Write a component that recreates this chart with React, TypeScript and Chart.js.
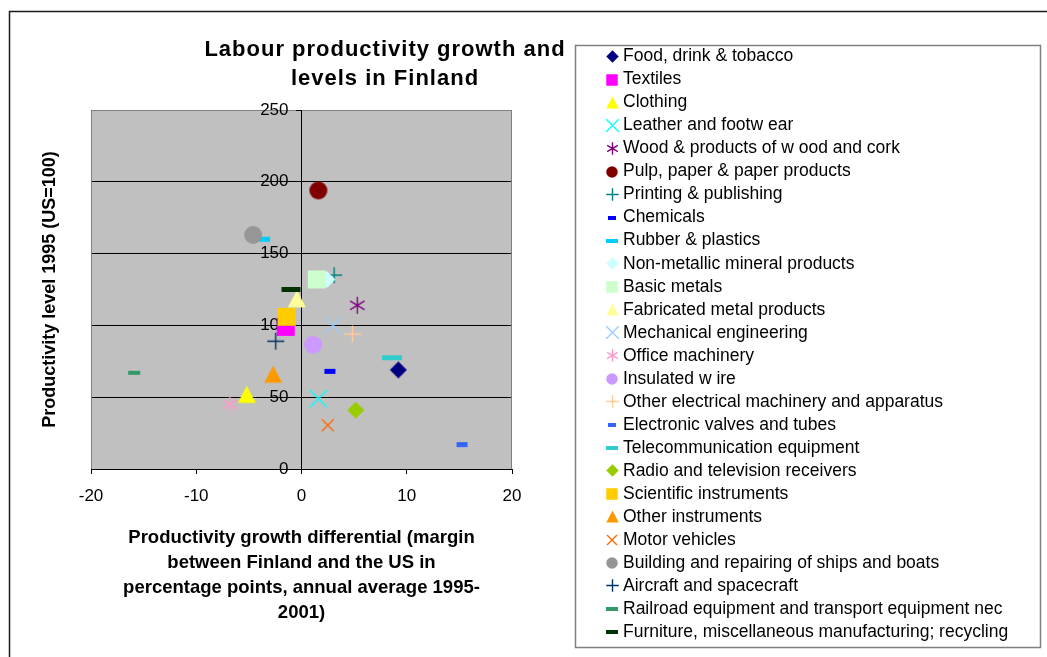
import React, { useEffect, useRef } from 'react';
import { Chart, registerables } from 'chart.js';

Chart.register(...registerables);

const FONT = '"Liberation Sans", Arial, Helvetica, sans-serif';

const chartTitle = ['Labour productivity growth and', 'levels in Finland'];
const xAxisTitle = [
  'Productivity growth differential (margin',
  'between Finland and the US in',
  'percentage points, annual average 1995-',
  '2001)',
];
const yAxisTitle = 'Productivity level 1995 (US=100)';

const sectors = [
  'Food, drink & tobacco',
  'Textiles',
  'Clothing',
  'Leather and footw ear',
  'Wood & products of w ood and cork',
  'Pulp, paper & paper products',
  'Printing & publishing',
  'Chemicals',
  'Rubber & plastics',
  'Non-metallic mineral products',
  'Basic metals',
  'Fabricated metal products',
  'Mechanical engineering',
  'Office machinery',
  'Insulated w ire',
  'Other electrical machinery and apparatus',
  'Electronic valves and tubes',
  'Telecommunication equipment',
  'Radio and television receivers',
  'Scientific instruments',
  'Other instruments',
  'Motor vehicles',
  'Building and repairing of ships and boats',
  'Aircraft and spacecraft',
  'Railroad equipment and transport equipment nec',
  'Furniture, miscellaneous manufacturing; recycling',
];

// Productivity growth differential (percentage points)
const growthDiff = [
  9.2, -1.5, -5.2, 1.6, 5.3, 1.6, 3.1, 2.7, -3.6, 2.4, 1.45, -0.45, 3.0,
  -6.8, 1.1, 4.85, 15.25, 8.6, 5.15, -1.4, -2.7, 2.5, -4.6, -2.45, -15.9, -1.0,
];

// Productivity level 1995 (US = 100)
const level1995 = [
  69, 99, 52, 49, 114, 194, 135, 68, 160, 132, 132, 118.5, 100,
  45, 86.5, 94, 17, 77.5, 41, 106, 66, 30.5, 163, 89, 67, 125,
];

const xMin = -20;
const xMax = 20;
const xStep = 10;
const yMin = 0;
const yMax = 250;
const yStep = 50;

type Shape = 'diamond' | 'square' | 'triangle' | 'x' | 'star' | 'circle' | 'plus' | 'dash';
interface MarkerStyle { shape: Shape; color: string; size: number; h?: number }

const markerStyles: MarkerStyle[] = [
  { shape: 'diamond', color: '#000080', size: 17 },
  { shape: 'square', color: '#FF00FF', size: 18 },
  { shape: 'triangle', color: '#FFFF00', size: 18 },
  { shape: 'x', color: '#00FFFF', size: 17 },
  { shape: 'star', color: '#800080', size: 17 },
  { shape: 'circle', color: '#800000', size: 18 },
  { shape: 'plus', color: '#008080', size: 16 },
  { shape: 'dash', color: '#0000FF', size: 11, h: 5 },
  { shape: 'dash', color: '#00CCFF', size: 13, h: 5 },
  { shape: 'diamond', color: '#CCFFFF', size: 17 },
  { shape: 'square', color: '#CCFFCC', size: 18 },
  { shape: 'triangle', color: '#FFFF99', size: 18 },
  { shape: 'x', color: '#99CCFF', size: 17 },
  { shape: 'star', color: '#FF99CC', size: 17 },
  { shape: 'circle', color: '#CC99FF', size: 18 },
  { shape: 'plus', color: '#FFCC99', size: 17 },
  { shape: 'dash', color: '#3366FF', size: 11, h: 5 },
  { shape: 'dash', color: '#33CCCC', size: 20, h: 5 },
  { shape: 'diamond', color: '#99CC00', size: 17 },
  { shape: 'square', color: '#FFCC00', size: 18 },
  { shape: 'triangle', color: '#FF9900', size: 18 },
  { shape: 'x', color: '#FF6600', size: 12 },
  { shape: 'circle', color: '#969696', size: 18 },
  { shape: 'plus', color: '#003366', size: 17 },
  { shape: 'dash', color: '#339966', size: 12, h: 4 },
  { shape: 'dash', color: '#003300', size: 19, h: 5 },
];

function makeMarker(shape: Shape, color: string, size: number, h?: number): HTMLCanvasElement {
  const pad = 2;
  const w = size;
  const hh = shape === 'dash' ? (h ?? 4) : size;
  const c = document.createElement('canvas');
  const W = Math.ceil(w) + pad * 2;
  const H = Math.ceil(hh) + pad * 2;
  c.width = W;
  c.height = H;
  const ctx = c.getContext('2d') as CanvasRenderingContext2D;
  const cx = W / 2;
  const cy = H / 2;
  const r = w / 2;
  ctx.fillStyle = color;
  ctx.strokeStyle = color;
  ctx.lineWidth = 1.4;
  ctx.lineCap = 'butt';
  ctx.beginPath();
  switch (shape) {
    case 'diamond':
      ctx.moveTo(cx, cy - r);
      ctx.lineTo(cx + r, cy);
      ctx.lineTo(cx, cy + r);
      ctx.lineTo(cx - r, cy);
      ctx.closePath();
      ctx.fill();
      break;
    case 'square':
      ctx.fillRect(cx - r, cy - r, w, w);
      break;
    case 'triangle': {
      const th = w * 0.95;
      ctx.moveTo(cx, cy - th / 2);
      ctx.lineTo(cx + r, cy + th / 2);
      ctx.lineTo(cx - r, cy + th / 2);
      ctx.closePath();
      ctx.fill();
      break;
    }
    case 'circle':
      ctx.arc(cx, cy, r, 0, Math.PI * 2);
      ctx.fill();
      break;
    case 'x':
      ctx.moveTo(cx - r, cy - r);
      ctx.lineTo(cx + r, cy + r);
      ctx.moveTo(cx + r, cy - r);
      ctx.lineTo(cx - r, cy + r);
      ctx.stroke();
      break;
    case 'plus':
      ctx.moveTo(cx - r, cy);
      ctx.lineTo(cx + r, cy);
      ctx.moveTo(cx, cy - r);
      ctx.lineTo(cx, cy + r);
      ctx.stroke();
      break;
    case 'star': {
      const a = r * 0.85;
      ctx.moveTo(cx - a, cy - a * 0.6);
      ctx.lineTo(cx + a, cy + a * 0.6);
      ctx.moveTo(cx + a, cy - a * 0.6);
      ctx.lineTo(cx - a, cy + a * 0.6);
      ctx.moveTo(cx, cy - r);
      ctx.lineTo(cx, cy + r);
      ctx.stroke();
      break;
    }
    case 'dash':
      ctx.fillRect(cx - w / 2, cy - hh / 2, w, hh);
      break;
  }
  return c;
}

export default function App() {
  const ref = useRef<HTMLCanvasElement | null>(null);

  useEffect(() => {
    const canvas = ref.current;
    if (!canvas) return;

    const plotMarkers = markerStyles.map((m) => makeMarker(m.shape, m.color, m.size, m.h));
    const legendMarkers = markerStyles.map((m) => {
      if (m.shape === 'dash') return makeMarker('dash', m.color, m.size <= 11 ? 8 : 12, 4);
      if (m.shape === 'x' && m.size < 15) return makeMarker('x', m.color, 10);
      return makeMarker(m.shape, m.color, m.shape === 'square' || m.shape === 'circle' ? 11.5 : 12.5);
    });

    const framePlugin = {
      id: 'excelFrame',
      beforeDraw(chart: any) {
        const { ctx, chartArea: a } = chart;
        ctx.save();
        ctx.fillStyle = '#FFFFFF';
        ctx.fillRect(0, 0, chart.width, chart.height);
        ctx.strokeStyle = '#1a1a1a';
        ctx.lineWidth = 1.5;
        ctx.strokeRect(9.5, 11.5, chart.width + 20, chart.height + 20);
        ctx.fillStyle = '#C0C0C0';
        ctx.fillRect(a.left, a.top, a.right - a.left, a.bottom - a.top);
        ctx.restore();
      },
      beforeDatasetsDraw(chart: any) {
        const { ctx, chartArea: a } = chart;
        ctx.save();
        ctx.strokeStyle = '#808080';
        ctx.lineWidth = 1;
        ctx.beginPath();
        ctx.moveTo(Math.round(a.left) + 0.5, a.top);
        ctx.lineTo(Math.round(a.left) + 0.5, a.bottom);
        ctx.moveTo(Math.round(a.right) - 0.5, a.top);
        ctx.lineTo(Math.round(a.right) - 0.5, a.bottom);
        ctx.stroke();
        ctx.restore();
      },
      afterDraw(chart: any) {
        const { ctx } = chart;
        ctx.save();
        // legend
        ctx.strokeStyle = '#808080';
        ctx.lineWidth = 1.5;
        ctx.strokeRect(575.5, 45.5, 465, 602);
        ctx.font = `17.5px ${FONT}`;
        ctx.textBaseline = 'middle';
        ctx.textAlign = 'left';
        ctx.fillStyle = '#000000';
        chart.data.datasets.forEach((ds: any, i: number) => {
          const cy = 56.5 + i * 23.02;
          const img = legendMarkers[i];
          ctx.drawImage(img, Math.round(612 - img.width / 2), Math.round(cy - img.height / 2));
          ctx.fillText(ds.label, 623, cy);
        });
        // chart title
        ctx.font = `bold 22px ${FONT}`;
        ctx.textAlign = 'center';
        try { (ctx as any).letterSpacing = '1px'; } catch (e) { /* ignore */ }
        chartTitle.forEach((line, i) => ctx.fillText(line, 385, 50 + i * 29));
        ctx.restore();
      },
    };

    const chart = new Chart(canvas, {
      type: 'scatter',
      data: {
        datasets: sectors.map((name, i) => ({
          label: name,
          data: [{ x: growthDiff[i], y: level1995[i] }],
          xAxisID: 'x',
          yAxisID: 'y',
          pointStyle: plotMarkers[i] as any,
          pointRadius: 9,
          pointHoverRadius: 9,
          backgroundColor: markerStyles[i].color,
          borderColor: markerStyles[i].color,
          order: sectors.length - i,
        })),
      },
      options: {
        responsive: false,
        animation: false,
        devicePixelRatio: 1,
        layout: { padding: { left: 0, top: 110, right: 535, bottom: 0 } },
        plugins: {
          legend: { display: false },
          title: { display: false },
          tooltip: { enabled: false },
        },
        scales: {
          x: {
            type: 'linear',
            position: 'bottom',
            min: xMin,
            max: xMax,
            ticks: { stepSize: xStep, color: '#000', font: { size: 17, family: FONT }, padding: 12, maxRotation: 0 },
            grid: { display: true, drawOnChartArea: false, drawTicks: true, tickLength: 5, tickColor: '#000' },
            border: { display: true, color: '#000', width: 1 },
            title: {
              display: true,
              text: xAxisTitle,
              color: '#000',
              font: { size: 18.5, weight: 'bold', family: FONT, lineHeight: 25 / 18.5 },
              padding: { top: 0, bottom: 31.5 },
            },
            afterFit: (s: any) => { s.height = 188; },
          },
          y: {
            type: 'linear',
            position: 'center',
            min: yMin,
            max: yMax,
            ticks: { stepSize: yStep, display: false },
            grid: {
              color: (c: any) => (c.tick && c.tick.value === yMax ? '#808080' : '#000'),
              tickColor: '#000',
              tickLength: 5,
              lineWidth: 1,
            },
            border: { display: true, color: '#000', width: 1 },
          },
          yLabels: {
            type: 'linear',
            position: 'center',
            min: yMin,
            max: yMax,
            z: 1,
            ticks: { stepSize: yStep, color: '#000', font: { size: 17, family: FONT }, padding: 13 },
            grid: { display: false, drawTicks: false },
            border: { display: false },
          },
          yTitle: {
            type: 'linear',
            position: 'left',
            min: 0,
            max: 1,
            ticks: { display: false },
            grid: { display: false },
            border: { display: false },
            title: {
              display: true,
              text: yAxisTitle,
              color: '#000',
              font: { size: 18, weight: 'bold', family: FONT },
              padding: { top: 39, bottom: 0 },
            },
            afterFit: (s: any) => { s.width = 91; },
          },
        },
      } as any,
      plugins: [framePlugin],
    });

    return () => chart.destroy();
  }, []);

  return (
    <div style={{ position: 'fixed', left: 0, top: 0, width: 1047, height: 657, background: '#fff', overflow: 'hidden' }}>
      <canvas ref={ref} width={1047} height={657} style={{ display: 'block' }} />
    </div>
  );
}
